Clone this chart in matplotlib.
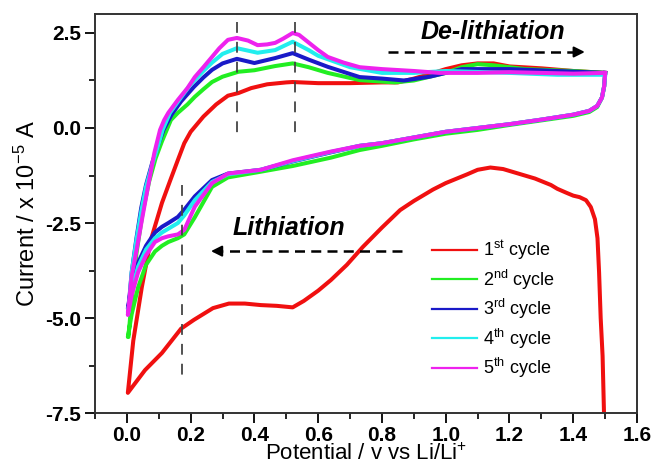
import numpy as np
import matplotlib
matplotlib.use("Agg")
from matplotlib import pyplot as plt
from matplotlib.ticker import MultipleLocator, FormatStrFormatter

plt.rcParams['font.family'] = ['Liberation Sans', 'DejaVu Sans']
plt.rcParams['axes.unicode_minus'] = False
plt.rcParams['mathtext.fontset'] = 'custom'
plt.rcParams['mathtext.rm'] = 'Liberation Sans'
plt.rcParams['mathtext.it'] = 'Liberation Sans:italic'
plt.rcParams['mathtext.bf'] = 'Liberation Sans:bold'

# Datos (potencial en V, corriente en 1e-5 A), en orden de barrido
# ciclo 1: barrido catodico desde 1.5 V y luego anodico
c1_v = [1.497, 1.492, 1.486, 1.481, 1.476, 1.468, 1.455, 1.44, 1.42, 1.40, 1.38, 1.35,
        1.33, 1.28, 1.22, 1.18, 1.14, 1.10, 1.067, 1.0, 0.96, 0.9, 0.857, 0.8, 0.74,
        0.69, 0.64, 0.6, 0.555, 0.52, 0.47, 0.42, 0.37, 0.32, 0.27, 0.21, 0.17, 0.11,
        0.057, 0.003,
        0.02, 0.047, 0.075, 0.11, 0.135, 0.16, 0.18, 0.2, 0.24, 0.28, 0.317, 0.35,
        0.39, 0.44, 0.5, 0.52, 0.6, 0.7, 0.8, 0.85, 0.9, 0.95, 1.0, 1.05, 1.1, 1.15,
        1.2, 1.3, 1.4, 1.5]
c1_i = [-7.7, -6.0, -5.0, -3.8, -2.9, -2.4, -2.08, -1.9, -1.82, -1.78, -1.71, -1.6,
        -1.5, -1.33, -1.18, -1.08, -1.04, -1.1, -1.22, -1.45, -1.62, -1.92, -2.16, -2.62, -3.13,
        -3.6, -4.0, -4.28, -4.55, -4.72, -4.68, -4.66, -4.62, -4.62, -4.74, -5.05, -5.28, -5.92,
        -6.37, -6.97,
        -5.6, -4.18, -2.95, -1.97, -1.4, -0.84, -0.4, -0.1, 0.3, 0.62, 0.85, 0.92,
        1.05, 1.15, 1.2, 1.21, 1.18, 1.18, 1.2, 1.2, 1.3, 1.42, 1.55, 1.65, 1.7, 1.7,
        1.62, 1.57, 1.5, 1.45]

# ciclos 2-5: rama catodica (1.5 -> 0) y rama anodica (0 -> 1.5)
lower_v = [1.5, 1.497, 1.49, 1.475, 1.45, 1.4, 1.3, 1.2, 1.1, 1.0, 0.9, 0.8, 0.73,
           0.64, 0.52, 0.42, 0.317, 0.267, 0.213, 0.18, 0.16, 0.13, 0.11, 0.088, 0.06,
           0.035, 0.015, 0.003]
c2_lower = [1.45, 1.1, 0.8, 0.55, 0.42, 0.32, 0.2, 0.08, -0.05, -0.15, -0.3, -0.47, -0.58,
            -0.78, -1.0, -1.15, -1.3, -1.55, -2.35, -2.8, -2.9, -3.0, -3.1, -3.25, -3.6,
            -4.2, -4.9, -5.5]
c3_lower = [1.45, 1.1, 0.8, 0.58, 0.45, 0.35, 0.22, 0.1, 0.0, -0.1, -0.25, -0.4, -0.47,
            -0.64, -0.88, -1.1, -1.2, -1.37, -1.8, -2.15, -2.34, -2.5, -2.6, -2.75, -3.1,
            -3.55, -4.1, -4.75]
c4_lower = [1.4, 1.1, 0.8, 0.58, 0.45, 0.35, 0.22, 0.1, 0.0, -0.1, -0.25, -0.4, -0.47,
            -0.63, -0.87, -1.1, -1.22, -1.42, -1.9, -2.3, -2.5, -2.65, -2.75, -2.9, -3.2,
            -3.65, -4.25, -4.85]
c5_lower = [1.45, 1.1, 0.8, 0.58, 0.45, 0.35, 0.22, 0.1, 0.0, -0.1, -0.25, -0.4, -0.47,
            -0.62, -0.85, -1.1, -1.2, -1.45, -2.07, -2.68, -2.8, -2.85, -2.9, -3.0, -3.35,
            -3.8, -4.4, -4.92]

c2_up_v = [0.005, 0.015, 0.03, 0.05, 0.07, 0.09, 0.11, 0.125, 0.138, 0.16, 0.19, 0.213,
           0.24, 0.267, 0.3, 0.35, 0.4, 0.465, 0.52, 0.57, 0.63, 0.73, 0.84, 0.9, 1.0,
           1.05, 1.1, 1.15, 1.25, 1.4, 1.5]
c2_up_i = [-5.5, -4.5, -3.3, -2.2, -1.4, -0.8, -0.35, -0.05, 0.21, 0.4, 0.62, 0.82,
           1.02, 1.21, 1.35, 1.48, 1.52, 1.63, 1.7, 1.6, 1.45, 1.26, 1.2, 1.25, 1.45,
           1.6, 1.68, 1.65, 1.55, 1.5, 1.45]
c3_up_v = [0.005, 0.015, 0.03, 0.045, 0.06, 0.08, 0.1, 0.115, 0.14, 0.17, 0.21, 0.24,
           0.267, 0.3, 0.345, 0.4, 0.465, 0.52, 0.57, 0.63, 0.73, 0.8, 0.87, 0.95, 1.05,
           1.2, 1.35, 1.5]
c3_up_i = [-4.75, -3.8, -2.9, -2.1, -1.5, -0.9, -0.4, -0.05, 0.35, 0.7, 1.08, 1.33,
           1.53, 1.7, 1.82, 1.71, 1.84, 1.97, 1.8, 1.61, 1.34, 1.3, 1.25, 1.35, 1.55,
           1.55, 1.5, 1.45]
c4_up_v = [0.005, 0.015, 0.03, 0.045, 0.06, 0.08, 0.1, 0.112, 0.135, 0.165, 0.2, 0.24,
           0.267, 0.3, 0.345, 0.41, 0.465, 0.52, 0.57, 0.6, 0.7, 0.8, 0.9, 1.0, 1.2,
           1.35, 1.5]
c4_up_i = [-4.85, -3.8, -2.95, -2.2, -1.55, -0.95, -0.4, -0.05, 0.4, 0.75, 1.15, 1.5,
           1.72, 1.95, 2.1, 1.98, 2.05, 2.27, 2.05, 1.9, 1.6, 1.45, 1.45, 1.5, 1.45,
           1.4, 1.4]
c5_up_v = [0.003, 0.015, 0.032, 0.047, 0.066, 0.086, 0.104, 0.117, 0.13, 0.16, 0.19,
           0.213, 0.24, 0.267, 0.29, 0.317, 0.345, 0.38, 0.41, 0.44, 0.465, 0.49, 0.52,
           0.54, 0.57, 0.6, 0.63, 0.68, 0.73, 0.8, 0.9, 0.98, 1.1, 1.2, 1.3, 1.4, 1.5]
c5_up_i = [-4.92, -3.9, -3.13, -2.42, -1.55, -0.66, -0.05, 0.21, 0.4, 0.74, 1.05,
           1.34, 1.6, 1.87, 2.1, 2.32, 2.37, 2.3, 2.18, 2.2, 2.24, 2.35, 2.5,
           2.45, 2.25, 2.05, 1.87, 1.72, 1.6, 1.55, 1.5, 1.45, 1.45, 1.47, 1.45, 1.43, 1.45]

labels = ['1$^{\\mathrm{st}}$ cycle', '2$^{\\mathrm{nd}}$ cycle', '3$^{\\mathrm{rd}}$ cycle',
          '4$^{\\mathrm{th}}$ cycle', '5$^{\\mathrm{th}}$ cycle']
colores = ['#f01010', '#22ee22', '#1a1ac8', '#22eeee', '#ee22ee']

fig = plt.figure(figsize=(6.57, 4.68), dpi=100)
ax = fig.add_axes([0.1446, 0.1175, 0.825, 0.8526])

curvas = [
    (c1_v, c1_i),
    (lower_v + c2_up_v, c2_lower + c2_up_i),
    (lower_v + c3_up_v, c3_lower + c3_up_i),
    (lower_v + c4_up_v, c4_lower + c4_up_i),
    (lower_v + c5_up_v, c5_lower + c5_up_i),
]
for (v, i), col, lab in zip(curvas, colores, labels):
    ax.plot(v, i, color=col, lw=2.9, label=lab, solid_joinstyle='round')

# lineas guia de los picos
for xv, y0, y1 in [(0.345, 2.8, -0.18), (0.527, 2.8, -0.18), (0.173, -1.5, -6.7)]:
    ax.plot([xv, xv], [y0, y1], color='#444444', lw=1.3, linestyle=(0, (6, 5)))

# flechas de barrido
ax.plot([0.82, 1.40], [2.0, 2.0], color='black', lw=1.8, linestyle=(0, (4, 2.5)))
ax.annotate('', xy=(1.445, 2.0), xytext=(1.40, 2.0),
            arrowprops=dict(arrowstyle='-|>', color='black', lw=1.5, mutation_scale=16))
ax.text(1.147, 2.52, 'De-lithiation', fontsize=18, fontweight='bold', fontstyle='italic',
        ha='center', va='center')

ax.plot([0.863, 0.30], [-3.24, -3.24], color='black', lw=1.8, linestyle=(0, (4, 2.5)))
ax.annotate('', xy=(0.255, -3.24), xytext=(0.30, -3.24),
            arrowprops=dict(arrowstyle='-|>', color='black', lw=1.5, mutation_scale=16))
ax.text(0.507, -2.63, 'Lithiation', fontsize=18, fontweight='bold', fontstyle='italic',
        ha='center', va='center')

ax.set_xlim(-0.1, 1.6)
ax.set_ylim(-7.5, 3.0)
ax.xaxis.set_major_locator(MultipleLocator(0.2))
ax.xaxis.set_minor_locator(MultipleLocator(0.1))
ax.yaxis.set_major_locator(MultipleLocator(2.5))
ax.yaxis.set_minor_locator(MultipleLocator(1.25))
ax.xaxis.set_major_formatter(FormatStrFormatter('%.1f'))
ax.yaxis.set_major_formatter(FormatStrFormatter('%.1f'))
ax.tick_params(which='major', direction='out', length=7, width=1.3, labelsize=15, pad=3)
ax.tick_params(axis='x', which='major', pad=2)
ax.tick_params(which='minor', direction='out', length=4, width=1.2)
for lbl in ax.get_xticklabels() + ax.get_yticklabels():
    lbl.set_fontweight('bold')
for s in ax.spines.values():
    s.set_linewidth(1.4)
    s.set_color('#333333')

ax.set_xlabel('Potential / v vs Li/Li$^{+}$', fontsize=16, labelpad=-1)
ax.set_ylabel('Current / x 10$^{-5}$ A', fontsize=17, labelpad=4)

leg = ax.legend(loc='upper left', bbox_to_anchor=(0.622, 0.437), frameon=False, fontsize=13,
                handlelength=2.5, handletextpad=0.3, labelspacing=0.3, borderpad=0,
                borderaxespad=0)
for h in leg.legend_handles:
    h.set_linewidth(1.6)

plt.savefig('out.png', dpi=100)
